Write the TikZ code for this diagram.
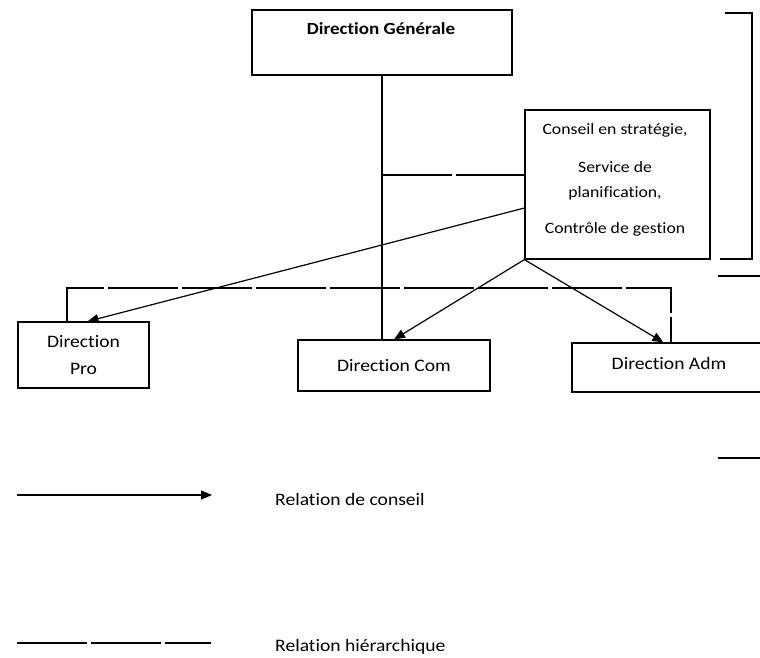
\documentclass[tikz,border=0pt]{standalone}
\usepackage{fontspec}
\setmainfont{Carlito}[FakeStretch=1.12,Ligatures={NoCommon}]
\usetikzlibrary{arrows.meta,calc}
\tikzset{
  box/.style={draw,line width=1.2pt,inner sep=0pt},
  lbl/.style={inner sep=0pt,align=center,font=\fontsize{17.5}{20}\selectfont},
  hier/.style={line width=1.2pt,dash pattern=on 70pt off 4pt},
  hiersolid/.style={line width=1.2pt},
  conseilarrow/.style={line width=1.2pt,-{Triangle[length=11pt,width=9pt]}}
}
\begin{document}
\begin{tikzpicture}[x=1pt,y=-1pt]
\useasboundingbox (0,0) rectangle (760,658);
\clip (0,0) rectangle (760,658);
% boxes
\node[box,minimum width=260pt,minimum height=65pt] (dg) at (382,42.5) {};
\node[lbl,font=\fontsize{17}{20}\selectfont\bfseries] (dgt) at (381,29) {Direction Générale};
\node[box,minimum width=185pt,minimum height=149pt] (conseil) at (617.5,184.5) {};
\node[lbl,font=\fontsize{15.8}{25}\selectfont] (conseilt) at (615,180)
  {Conseil en stratégie,\\[13pt] Service de\\ planification,\\[11pt] Contrôle de gestion};
\node[box,minimum width=131pt,minimum height=66pt,lbl,font=\fontsize{17.5}{27}\selectfont] (pro) at (83.5,355) {Direction\\Pro};
\node[box,minimum width=192pt,minimum height=51pt,lbl] (com) at (394,365.5) {Direction Com};
\node[box,minimum width=218pt,minimum height=49pt] (adm) at (681,367.5) {};
\node[lbl] (admt) at (669,363) {Direction Adm};
% hierarchy
\draw[hiersolid] (dg.south) -- (dg.south |- com.north);
\coordinate (hj) at (382,175);
\draw[hier] (hj) -- (hj -| conseil.west);
\coordinate (hl) at (67,288);
\coordinate (hr) at (671,288);
\draw[hier] (pro.north -| hl) -- (hl) -- (hr) -- (adm.north -| hr);
% conseil arrows
\draw[conseilarrow] ($(conseil.west)+(0,23.5)$) -- ($(pro.north)+(4,0)$);
\draw[conseilarrow] (conseil.south west) -- (com.north);
\draw[conseilarrow] (conseil.south west) -- ($(adm.north west)+(92,0)$);
% right bracket and marks
\draw[hiersolid] (725,13) -- (752,13) -- (752,259) -- (720,259);
\draw[hiersolid] (718,276) -- (760,276);
\draw[hiersolid] (718,458) -- (760,458);
% legend
\coordinate (la1) at (17,495);
\coordinate (la2) at (212,495);
\draw[conseilarrow] (la1) -- (la2);
\node[lbl,anchor=west] (lt1) at (275,499) {Relation de conseil};
\coordinate (lb1) at (17,643);
\coordinate (lb2) at (211,643);
\draw[hier] (lb1) -- (lb2);
\node[lbl,anchor=west] (lt2) at (275,647) {Relation hiérarchique};
\end{tikzpicture}
\end{document}
